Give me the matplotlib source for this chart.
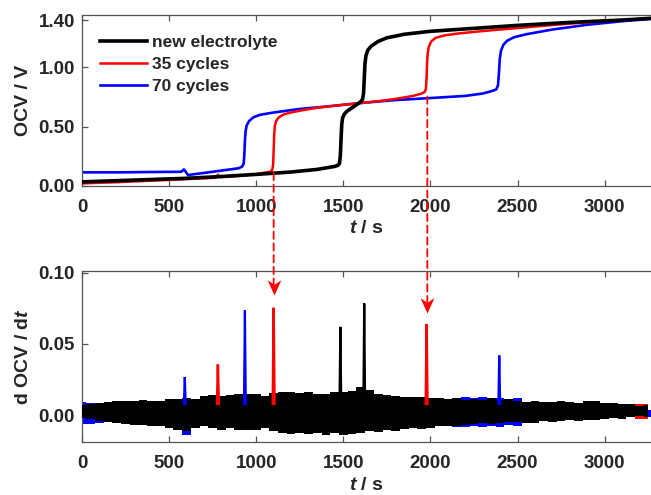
import numpy as np
import matplotlib
matplotlib.use("Agg")
import matplotlib.pyplot as plt
from matplotlib.patches import ConnectionPatch
from matplotlib.path import Path
from matplotlib.markers import MarkerStyle

plt.rcParams['font.family'] = ['Liberation Sans', 'DejaVu Sans']
plt.rcParams['font.weight'] = 'bold'
plt.rcParams['mathtext.fontset'] = 'custom'
plt.rcParams['mathtext.it'] = 'Liberation Sans:italic:bold'
plt.rcParams['mathtext.rm'] = 'Liberation Sans:bold'
plt.rcParams['mathtext.bf'] = 'Liberation Sans:bold'

# ---------------- data: OCV curves ----------------
labels = ["new electrolyte", "35 cycles", "70 cycles"]
colors = ["#000000", "#ff0000", "#0000ff"]

t_new = [0, 200, 400, 600, 800, 1000, 1200, 1350, 1450, 1470, 1478, 1483, 1487, 1491, 1496, 1505, 1520,
         1545, 1580, 1600, 1610, 1616, 1620, 1624, 1630, 1640, 1660, 1700, 1750, 1850, 2000, 2200,
         2500, 2800, 3100, 3270]
v_new = [0.035, 0.045, 0.055, 0.065, 0.08, 0.098, 0.118, 0.14, 0.165, 0.175, 0.19, 0.26, 0.40, 0.52, 0.575, 0.605, 0.63,
         0.655, 0.69, 0.712, 0.73, 0.78, 0.90, 1.03, 1.10, 1.145, 1.18, 1.22, 1.25, 1.28, 1.305, 1.325,
         1.355, 1.38, 1.40, 1.415]

t_35 = [0, 200, 400, 600, 770, 780, 790, 900, 1000, 1080, 1092, 1097, 1100, 1103, 1107, 1115, 1130, 1160,
        1200, 1250, 1350, 1500, 1600, 1700, 1800, 1900, 1950, 1968, 1974, 1978, 1981, 1985, 1992, 2005,
        2030, 2080, 2150, 2250, 2400, 2600, 2800, 3000, 3270]
v_35 = [0.022, 0.032, 0.045, 0.058, 0.07, 0.095, 0.075, 0.085, 0.10, 0.12, 0.135, 0.18, 0.30, 0.43, 0.51, 0.55, 0.58, 0.605,
        0.62, 0.635, 0.66, 0.685, 0.70, 0.715, 0.735, 0.76, 0.78, 0.795, 0.82, 0.92, 1.05, 1.13, 1.18, 1.22,
        1.25, 1.27, 1.285, 1.30, 1.32, 1.345, 1.37, 1.39, 1.415]

t_70 = [0, 200, 400, 570, 585, 595, 610, 620, 700, 800, 900, 920, 928, 932, 935, 939, 945, 960, 985,
        1020, 1100, 1250, 1400, 1600, 1800, 2000, 2200, 2300, 2350, 2378, 2388, 2393, 2398, 2405, 2418,
        2440, 2480, 2550, 2700, 2900, 3100, 3270]
v_70 = [0.115, 0.115, 0.118, 0.12, 0.14, 0.12, 0.09, 0.095, 0.11, 0.13, 0.15, 0.165, 0.19, 0.27, 0.38, 0.46, 0.51, 0.55, 0.58,
        0.60, 0.62, 0.65, 0.67, 0.70, 0.725, 0.742, 0.76, 0.78, 0.80, 0.815, 0.85, 0.95, 1.07, 1.14, 1.19,
        1.225, 1.255, 1.28, 1.32, 1.36, 1.39, 1.41]

# ---------------- data: dOCV/dt noise envelopes ----------------
env_t = list(range(0, 3300, 50))
black_hi = [0.0071, 0.0078, 0.0087, 0.0095, 0.0102, 0.0102, 0.0102, 0.0106, 0.0102, 0.0102,
            0.0111, 0.0111, 0.0118, 0.0111, 0.0134, 0.0141, 0.0134, 0.0141, 0.0148, 0.0152,
            0.0148, 0.0134, 0.0157, 0.0164, 0.0164, 0.0157, 0.0164, 0.0152, 0.0152, 0.0164,
            0.0160, 0.0170, 0.0199, 0.0176, 0.0152, 0.0141, 0.0134, 0.0129, 0.0129, 0.0125,
            0.0118, 0.0118, 0.0111, 0.0118, 0.0106, 0.0111, 0.0106, 0.0118, 0.0106, 0.0111,
            0.0102, 0.0095, 0.0102, 0.0095, 0.0095, 0.0102, 0.0095, 0.0083, 0.0102, 0.0102,
            0.0083, 0.0087, 0.0078, 0.0078, 0.0065, 0.0071]
black_lo = [-0.0021, -0.0028, -0.0044, -0.0051, -0.0056, -0.0061, -0.0067, -0.0067, -0.0074, -0.0079,
            -0.0091, -0.0102, -0.0114, -0.0091, -0.0079, -0.0091, -0.0102, -0.0091, -0.0102, -0.0102,
            -0.0107, -0.0091, -0.0114, -0.0125, -0.0130, -0.0125, -0.0130, -0.0125, -0.0137, -0.0125,
            -0.0137, -0.0130, -0.0125, -0.0114, -0.0121, -0.0102, -0.0114, -0.0097, -0.0091, -0.0097,
            -0.0091, -0.0079, -0.0074, -0.0079, -0.0067, -0.0061, -0.0056, -0.0061, -0.0056, -0.0051,
            -0.0051, -0.0056, -0.0056, -0.0044, -0.0051, -0.0044, -0.0033, -0.0044, -0.0037, -0.0033,
            -0.0028, -0.0021, -0.0028, -0.0014, -0.0005, -0.0014]

blue_env_t = [0, 50, 100, 150, 550, 600, 650, 2100, 2150, 2200, 2250, 2300, 2350, 2400, 2450, 2500, 2550, 3270]
blue_hi = [0.0090, 0.0088, 0.0085, 0.0050, 0.0050, 0.0050, 0.0050, 0.0050, 0.0115, 0.0125,
           0.0118, 0.0125, 0.0112, 0.0122, 0.0110, 0.0118, 0.0050, 0.0040]
blue_lo = [-0.0065, -0.0062, -0.0058, -0.0030, -0.0030, -0.0140, -0.0030, -0.0030, -0.0080, -0.0085,
           -0.0075, -0.0085, -0.0078, -0.0082, -0.0072, -0.0078, -0.0020, -0.0010]

red_env_t = [0, 3150, 3200, 3250]
red_hi = [0.0050, 0.0050, 0.0080, 0.0080]
red_lo = [-0.0005, -0.0005, -0.0030, -0.0030]

# peaks of dOCV/dt (time, height)
spikes_new_t = [1483, 1620]
spikes_new_h = [0.062, 0.0785]
spikes_35_t = [780, 1100, 1978]
spikes_35_h = [0.0356, 0.0754, 0.0639]
spikes_70_t = [590, 935, 2395]
spikes_70_h = [0.0268, 0.0736, 0.0419]

# arrows linking the OCV step of the 35-cycle curve to its peak
arrow_t = [1100, 1982]
arrow_start = [0.11, 0.755]
arrow_end = [0.0847, 0.0717]

xticks = [0, 500, 1000, 1500, 2000, 2500, 3000]
yticks_top = [0.0, 0.5, 1.0, 1.4]
yticks_bot = [0.0, 0.05, 0.10]

# ---------------- figure ----------------
W, H = 651, 495
fig = plt.figure(figsize=(W / 100, H / 100), dpi=100)
L = 82 / W
ax1 = fig.add_axes([L, 1 - 186 / H, 1 - L, (186 - 14.7) / H])
ax2 = fig.add_axes([L, 1 - 442.3 / H, 1 - L, (442.3 - 270.7) / H])

spine_c = '#555555'
tick_c = '#262626'
for ax in (ax1, ax2):
    ax.set_xlim(0, 3266)
    ax.set_xticks(xticks)
    ax.set_xticklabels([str(x) for x in xticks])
    for s in ('left', 'bottom', 'top'):
        ax.spines[s].set_color(spine_c)
        ax.spines[s].set_linewidth(0.9)
    ax.spines['right'].set_visible(False)
    ax.tick_params(direction='in', length=4, width=0.9, color=spine_c, top=True, right=False,
                   labelsize=13.5, labelcolor=tick_c)
    ax.tick_params(axis='x', pad=9)
    ax.tick_params(axis='y', pad=5)

# top panel
ax1.plot(t_new, v_new, color=colors[0], lw=2.6, label=labels[0], zorder=4)
ax1.plot(t_35, v_35, color=colors[1], lw=1.8, label=labels[1], zorder=3)
ax1.plot(t_70, v_70, color=colors[2], lw=1.9, label=labels[2], zorder=2)
ax1.set_ylim(0, 1.445)
ax1.set_yticks(yticks_top)
ax1.set_yticklabels(['%.2f' % v for v in yticks_top])
ax1.set_ylabel('OCV / V', fontsize=14, fontweight='bold', color=tick_c, labelpad=5)
ax1.set_xlabel(r'$t$ / s', fontsize=14, fontweight='bold', color=tick_c, labelpad=3.5)

leg = ax1.legend(loc='upper left', bbox_to_anchor=(100 / W, 1 - 35 / H), bbox_transform=fig.transFigure,
                 frameon=False, fontsize=12.5, handlelength=2.7, handletextpad=0.3,
                 labelspacing=0.38, borderpad=0, borderaxespad=0)
for txt in leg.get_texts():
    txt.set_fontweight('bold')
    txt.set_color(tick_c)

# bottom panel
ax2.fill_between(blue_env_t, blue_lo, blue_hi, color=colors[2], lw=0, step='mid', zorder=1)
ax2.fill_between(red_env_t, red_lo, red_hi, color=colors[1], lw=0, step='mid', zorder=2)
ax2.fill_between(env_t, black_lo, black_hi, color=colors[0], lw=0, step='mid', zorder=3)

def draw_spikes(ts, hs, c, lw, z):
    for t0, h in zip(ts, hs):
        ax2.plot([t0 - 5, t0, t0 + 5], [0.008, h, 0.008], color=c, lw=lw, zorder=z,
                 solid_joinstyle='miter')

draw_spikes(spikes_70_t, spikes_70_h, colors[2], 1.6, 4)
draw_spikes(spikes_35_t, spikes_35_h, colors[1], 1.8, 4)
draw_spikes(spikes_new_t, spikes_new_h, colors[0], 1.6, 5)

ax2.set_ylim(-0.019, 0.1014)
ax2.set_yticks(yticks_bot)
ax2.set_yticklabels(['%.2f' % v for v in yticks_bot])
ax2.set_ylabel(r'd OCV / d$t$', fontsize=14, fontweight='bold', color=tick_c, labelpad=5)
ax2.set_xlabel(r'$t$ / s', fontsize=14, fontweight='bold', color=tick_c, labelpad=3.5)

# dashed arrows
head = Path([(0, 0), (-0.45, 1.0), (0, 0.7), (0.45, 1.0), (0, 0)],
            [Path.MOVETO, Path.LINETO, Path.LINETO, Path.LINETO, Path.CLOSEPOLY])
for t0, ys, ye in zip(arrow_t, arrow_start, arrow_end):
    con = ConnectionPatch(xyA=(t0, ys), coordsA=ax1.transData, xyB=(t0, ye + 0.007), coordsB=ax2.transData,
                          color='#ff0000', lw=1.3, linestyle=(0, (4, 2.5)), zorder=10)
    con.set_clip_on(False)
    fig.add_artist(con)
    ax2.plot([t0], [ye], marker=MarkerStyle(head), markersize=22, color='#ff0000',
             markeredgewidth=0, clip_on=False, zorder=11)

fig.savefig('out.png', dpi=100)
